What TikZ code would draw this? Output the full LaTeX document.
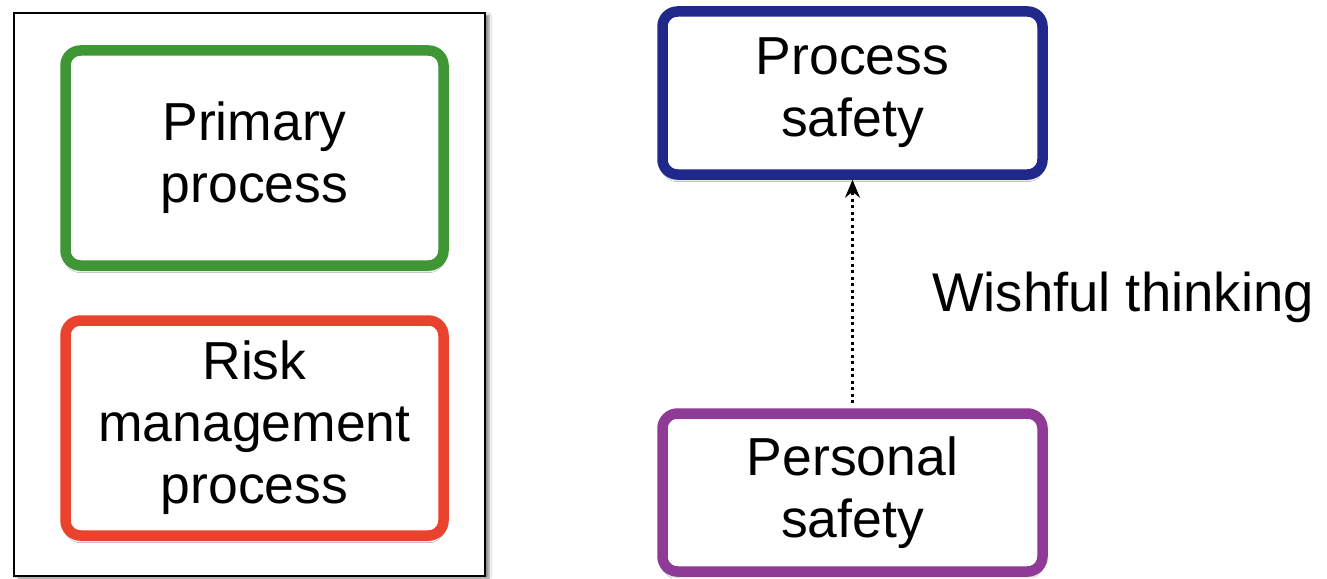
\documentclass[tikz,border=0pt]{standalone}
\usepackage{fontspec}
\setmainfont{Liberation Sans}
\usetikzlibrary{arrows.meta,shadows.blur}
\definecolor{cgreen}{RGB}{62,150,52}
\definecolor{cred}{RGB}{234,66,44}
\definecolor{cblue}{RGB}{32,40,140}
\definecolor{cpurple}{RGB}{142,58,150}
\tikzset{
  box/.style={draw, line width=10.5pt, rounded corners=15pt, fill=white,
    align=center, inner sep=0pt, font=\fontsize{53.5}{62}\selectfont,
    blur shadow={shadow xshift=0pt, shadow yshift=-5pt, shadow blur steps=6, shadow opacity=35}},
  frame/.style={draw=black, line width=2pt, fill=white, inner sep=0pt,
    blur shadow={shadow xshift=4pt, shadow yshift=-2pt, shadow blur steps=5, shadow opacity=45}},
  wish/.style={-{Stealth[length=18pt,width=15pt,inset=6pt]}, line width=2.4pt,
    dash pattern=on 3pt off 3.5pt, shorten <=5pt},
  lbl/.style={font=\fontsize{54.5}{62}\selectfont, inner sep=0pt}
}
\begin{document}
\begin{tikzpicture}[x=1pt,y=-1pt]
\useasboundingbox (0,0) rectangle (1327,578);
\fill[white] (0,0) rectangle (1327,578);
\node[frame, minimum width=471pt, minimum height=563pt] (frame) at (249.5,294.5) {};
\node[box, draw=cgreen, minimum width=378pt, minimum height=215pt] (primary) at (254.5,158) {Primary\\process};
\node[box, draw=cred, minimum width=378pt, minimum height=215pt] (risk) at (254.5,428) {Risk\\management\\process};
\node[box, draw=cblue, minimum width=380pt, minimum height=163pt] (psafety) at (852.5,93) {Process\\safety};
\node[box, draw=cpurple, minimum width=380pt, minimum height=158pt] (personal) at (852.5,492.5) {Personal\\safety};
\draw[wish] (personal.north) -- (psafety.south);
\node[lbl, anchor=base west] (wt) at (932,311) {Wishful thinking};
\end{tikzpicture}
\end{document}
